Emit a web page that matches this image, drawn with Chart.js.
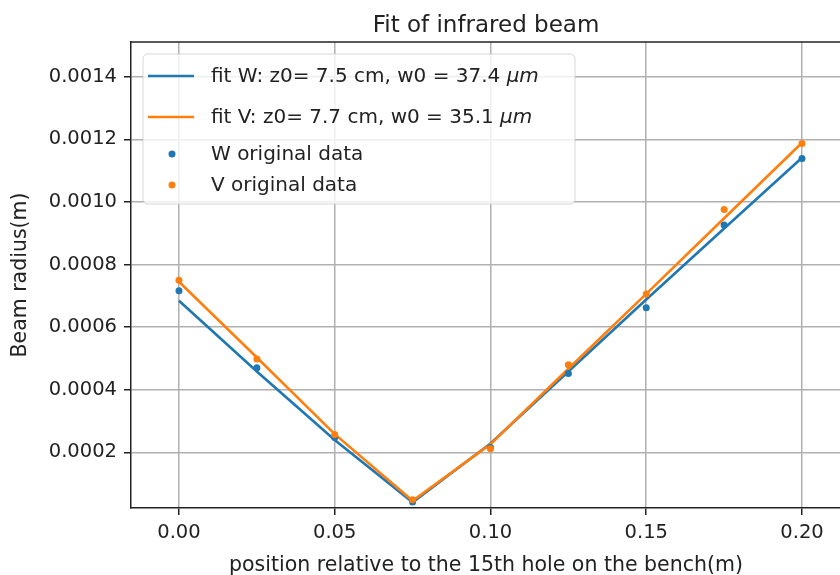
<!DOCTYPE html>
<html>
<head>
<meta charset="utf-8">
<script src="https://cdn.jsdelivr.net/npm/chart.js@4.4.0/dist/chart.umd.min.js"></script>
<style>
  html, body { margin: 0; padding: 0; background: #fff; }
  #wrap { width: 840px; height: 575px; position: relative; }
</style>
</head>
<body>
<div id="wrap"><canvas id="beam-chart"></canvas></div>
<script>
// ---- data ----
const positions = [0, 0.025, 0.05, 0.075, 0.1, 0.125, 0.15, 0.175, 0.2];
const fitW  = [0.000684, 0.000458, 0.000239, 0.000040, 0.000228, 0.000458, 0.000688, 0.000915, 0.001141];
const fitV  = [0.000745, 0.000503, 0.000258, 0.000045, 0.000226, 0.000467, 0.000706, 0.000948, 0.001189];
const dataW = [0.000716, 0.000470, 0.000247, 0.000041, 0.000215, 0.000452, 0.000662, 0.000926, 0.001139];
const dataV = [0.000750, 0.000498, 0.000257, 0.000048, 0.000211, 0.000480, 0.000706, 0.000976, 0.001187];

const xTicks = [0, 0.05, 0.1, 0.15, 0.2];
const yTicks = [0.0002, 0.0004, 0.0006, 0.0008, 0.0010, 0.0012, 0.0014];

const titleText = 'Fit of infrared beam';
const xLabel = 'position relative to the 15th hole on the bench(m)';
const yLabel = 'Beam radius(m)';
const legendText = ['fit W: z0= 7.5 cm, w0 = 37.4 ', 'fit V: z0= 7.7 cm, w0 = 35.1 ', 'W original data', 'V original data'];
const legendUnit = ['μm', 'μm', '', ''];

const BLUE = '#1f77b4';
const ORANGE = '#ff7f0e';
const INK = '#222';
const FONT = 'DejaVu Sans';

const pts = ys => positions.map((x, i) => ({ x, y: ys[i] }));

// matplotlib-ish decorations: top spine, title, axis labels, legend
const mplDecor = {
    id: 'mplDecor',
    afterDraw(chart) {
        const { ctx, chartArea: a } = chart;
        ctx.save();

        // top spine
        ctx.strokeStyle = INK;
        ctx.lineWidth = 1.5;
        ctx.beginPath();
        ctx.moveTo(a.left, a.top);
        ctx.lineTo(a.right, a.top);
        ctx.stroke();

        ctx.fillStyle = INK;
        ctx.textAlign = 'center';
        ctx.textBaseline = 'alphabetic';
        ctx.font = `23px "${FONT}"`;
        ctx.fillText(titleText, 486, 32);

        ctx.font = `20.5px "${FONT}"`;
        ctx.fillText(xLabel, 486, 571);

        ctx.save();
        ctx.translate(26, (a.top + a.bottom) / 2);
        ctx.rotate(-Math.PI / 2);
        ctx.fillText(yLabel, 0, 0);
        ctx.restore();

        // legend box
        const bx = 143, by = 54, bw = 432, bh = 150, r = 5;
        ctx.beginPath();
        ctx.roundRect(bx, by, bw, bh, r);
        ctx.fillStyle = 'rgba(255,255,255,0.8)';
        ctx.fill();
        ctx.strokeStyle = 'rgba(204,204,204,0.8)';
        ctx.lineWidth = 1;
        ctx.stroke();

        const ds = chart.data.datasets;
        const rowY = [77, 118, 155, 186];
        ctx.textAlign = 'left';
        ctx.textBaseline = 'middle';
        for (let i = 0; i < 4; i++) {
            const d = ds[i];
            const y = rowY[i];
            if (d.showLine) {
                ctx.strokeStyle = d.borderColor;
                ctx.lineWidth = 2.6;
                ctx.beginPath();
                ctx.moveTo(148, y - 1);
                ctx.lineTo(194, y - 1);
                ctx.stroke();
            } else {
                ctx.fillStyle = d.pointBackgroundColor;
                ctx.beginPath();
                ctx.arc(172, y - 1, 3.5, 0, Math.PI * 2);
                ctx.fill();
            }
            ctx.fillStyle = INK;
            ctx.font = `20px "${FONT}"`;
            ctx.fillText(legendText[i], 211, y);
            if (legendUnit[i]) {
                const w = ctx.measureText(legendText[i]).width;
                ctx.font = `italic 20px "${FONT}"`;
                ctx.fillText(legendUnit[i], 211 + w, y);
            }
        }
        ctx.restore();
    }
};

new Chart(document.getElementById('beam-chart'), {
    type: 'scatter',
    data: {
        datasets: [
            { label: legendText[0], data: pts(fitW), showLine: true, borderColor: BLUE, borderWidth: 2.6, pointRadius: 0, order: 3 },
            { label: legendText[1], data: pts(fitV), showLine: true, borderColor: ORANGE, borderWidth: 2.6, pointRadius: 0, order: 2 },
            { label: legendText[2], data: pts(dataW), showLine: false, pointBackgroundColor: BLUE, pointBorderWidth: 0, pointRadius: 3.5, order: 1 },
            { label: legendText[3], data: pts(dataV), showLine: false, pointBackgroundColor: ORANGE, pointBorderWidth: 0, pointRadius: 3.5, order: 0 }
        ]
    },
    options: {
        responsive: true,
        maintainAspectRatio: false,
        animation: false,
        devicePixelRatio: 1,
        layout: { autoPadding: false, padding: { top: 42, right: 0, left: 0, bottom: 0 } },
        plugins: { legend: { display: false }, title: { display: false }, tooltip: { enabled: false } },
        scales: {
            x: {
                type: 'linear',
                min: -0.0154,
                max: 0.2122,
                afterBuildTicks: s => { s.ticks = xTicks.map(v => ({ value: v })); },
                afterFit: s => { s.height = 67; s.paddingLeft = 0; s.paddingRight = 0; },
                ticks: { color: INK, font: { family: FONT, size: 19.5 }, padding: 6, maxRotation: 0, callback: v => Number(v).toFixed(2) },
                grid: { color: '#b0b0b0', lineWidth: 1.5, tickLength: 7, tickColor: INK, tickWidth: 1.5 },
                border: { color: INK, width: 1.5 }
            },
            y: {
                type: 'linear',
                min: 0.000022,
                max: 0.001511,
                afterBuildTicks: s => { s.ticks = yTicks.map(v => ({ value: v })); },
                afterFit: s => { s.width = 131; s.paddingTop = 0; s.paddingBottom = 0; },
                ticks: { color: INK, font: { family: FONT, size: 19.5 }, padding: 7, callback: v => Number(v).toFixed(4) },
                grid: { color: '#b0b0b0', lineWidth: 1.5, tickLength: 7, tickColor: INK, tickWidth: 1.5 },
                border: { color: INK, width: 1.5 }
            }
        }
    },
    plugins: [mplDecor]
});
</script>
</body>
</html>
